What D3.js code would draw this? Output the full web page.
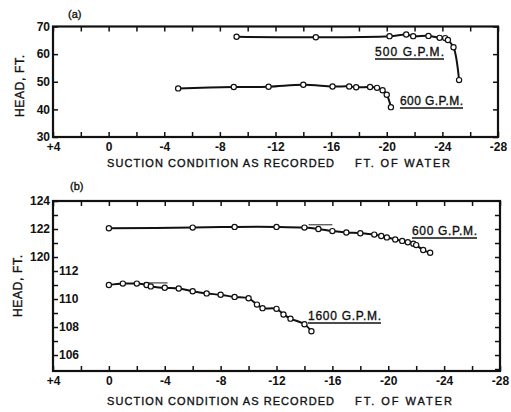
<!DOCTYPE html>
<html>
<head>
<meta charset="utf-8">
<script src="https://cdn.jsdelivr.net/npm/d3@7"></script>
<style>
  body { margin: 0; background: #fff; }
  svg { display: block; }
  text { font-family: "Liberation Sans", "DejaVu Sans", sans-serif; fill: #111; stroke: #111; stroke-width: 0.35; }
  .tick line { stroke: #111; stroke-width: 1.5; }
  .tick text { font-size: 12px; font-weight: bold; stroke: none; }
</style>
</head>
<body>
<svg width="511" height="412"></svg>
<script>
// x ticks (same for both panels)
var xTicks = [4, 2, 0, -2, -4, -6, -8, -10, -12, -14, -16, -18, -20, -22, -24, -26, -28];

// panel (a)
var aYTicks = [70, 60, 50, 40, 30];
var a500X = [-9.2, -14.9, -20.2, -21.4, -21.9, -23.0, -23.8, -24.2, -24.4, -24.8, -25.2];
var a500Y = [66.3, 66.1, 66.5, 67.1, 66.5, 66.6, 65.9, 65.8, 65.1, 62.5, 50.6];
var a600X = [-5.0, -9.0, -11.5, -14.0, -16.1, -17.3, -17.8, -18.8, -19.3, -19.7, -20.0, -20.3];
var a600Y = [47.6, 48.1, 48.2, 48.9, 48.3, 48.3, 48.0, 48.1, 47.8, 46.9, 45.3, 40.8];

// panel (b) - upper scale for 600 GPM, lower scale (offset 7 ft) for 1600 GPM
var bUpperTicks = [124, 123, 122, 121, 120];
var bLowerTicks = [112, 111, 110, 109, 108, 107, 106];
var b600X = [0, -6, -9, -12, -14, -15, -16, -17, -18, -19, -19.5, -19.9, -20.5, -21, -21.4, -21.8, -22, -22.5, -23];
var b600Y = [122.05, 122.1, 122.15, 122.15, 122.1, 122.0, 121.85, 121.75, 121.7, 121.6, 121.5, 121.4, 121.25, 121.15, 121.05, 120.95, 120.85, 120.5, 120.3];
var b1600X = [0, -1, -2, -2.7, -3, -4, -5, -6, -7, -8, -9, -10, -10.6, -11, -12, -12.5, -13, -14, -14.5];
var b1600Y = [111.0, 111.1, 111.1, 111.0, 110.9, 110.8, 110.75, 110.55, 110.4, 110.3, 110.15, 110.05, 109.6, 109.35, 109.3, 108.9, 108.6, 108.2, 107.7];
// faint pencil strokes
var bSketchUpper = [[-14.3, 122.3], [-16.0, 122.3]];
var bSketchLower = [[-2.5, 111.15], [-4.2, 111.15]];

var svg = d3.select("svg");

function zip(xs, ys) {
    return xs.map(function(x, i) { return [x, ys[i]]; });
}

function fmtX(d) {
    if (d % 4 !== 0) return "";
    if (d > 0) return "+" + d;
    return String(d);
}

function frame(x, y) {
    var x0 = x.range()[0], x1 = x.range()[1];
    var y0 = y.range()[1], y1 = y.range()[0];
    svg.append("rect")
        .attr("x", x0).attr("y", y0)
        .attr("width", x1 - x0).attr("height", y1 - y0)
        .attr("fill", "none").attr("stroke", "#111").attr("stroke-width", 2.2);

    var bottom = svg.append("g")
        .attr("transform", "translate(0," + y1 + ")")
        .call(d3.axisBottom(x).tickValues(xTicks).tickFormat(fmtX).tickSizeInner(-5).tickSizeOuter(0).tickPadding(5));
    bottom.select(".domain").remove();

    var top = svg.append("g")
        .attr("transform", "translate(0," + y0 + ")")
        .call(d3.axisTop(x).tickValues(xTicks).tickFormat("").tickSizeInner(-5).tickSizeOuter(0));
    top.select(".domain").remove();
}

function series(x, y, pts) {
    var line = d3.line()
        .x(function(d) { return x(d[0]); })
        .y(function(d) { return y(d[1]); })
        .curve(d3.curveCatmullRom.alpha(0.5));

    svg.append("path")
        .attr("d", line(pts))
        .attr("fill", "none")
        .attr("stroke", "#111")
        .attr("stroke-width", 2);

    svg.append("g").selectAll("circle")
        .data(pts)
        .enter().append("circle")
        .attr("cx", function(d) { return x(d[0]); })
        .attr("cy", function(d) { return y(d[1]); })
        .attr("r", 2.6)
        .attr("fill", "#fff")
        .attr("stroke", "#111")
        .attr("stroke-width", 1.2);
}

function sketch(x, y, pts) {
    svg.append("path")
        .attr("d", d3.line().x(function(d) { return x(d[0]); }).y(function(d) { return y(d[1]); })(pts))
        .attr("stroke", "#222").attr("stroke-width", 1);
}

function tag(label, x0, x1, y) {
    svg.append("text")
        .attr("x", x0).attr("y", y)
        .attr("font-size", 12)
        .attr("textLength", x1 - x0)
        .attr("lengthAdjust", "spacing")
        .text(label);
    svg.append("line")
        .attr("x1", x0).attr("x2", x1)
        .attr("y1", y + 3).attr("y2", y + 3)
        .attr("stroke", "#111").attr("stroke-width", 1.5);
}

function xTitle(y, right) {
    svg.append("text")
        .attr("x", 107).attr("y", y)
        .attr("font-size", 11)
        .attr("textLength", 227).attr("lengthAdjust", "spacing")
        .text("SUCTION CONDITION AS RECORDED");
    svg.append("text")
        .attr("x", 355).attr("y", y)
        .attr("font-size", 11)
        .attr("textLength", right - 355).attr("lengthAdjust", "spacing")
        .text("FT. OF WATER");
}

function yTitle(cx, cy) {
    svg.append("text")
        .attr("transform", "translate(" + cx + "," + cy + ") rotate(-90)")
        .attr("text-anchor", "middle")
        .attr("font-size", 12)
        .attr("textLength", 62).attr("lengthAdjust", "spacing")
        .text("HEAD, FT.");
}

// ---------- panel (a)
var xA = d3.scaleLinear().domain([4, -28]).range([53, 498]);
var yA = d3.scaleLinear().domain([30, 70]).range([137, 26.5]);

frame(xA, yA);

var aLeft = svg.append("g")
    .attr("transform", "translate(53,0)")
    .call(d3.axisLeft(yA).tickValues(aYTicks).tickSizeInner(-5).tickSizeOuter(0).tickPadding(3));
aLeft.select(".domain").remove();
aLeft.selectAll(".tick text").attr("font-size", 13);

var aRight = svg.append("g")
    .attr("transform", "translate(498,0)")
    .call(d3.axisRight(yA).tickValues(aYTicks).tickFormat("").tickSizeInner(-5).tickSizeOuter(0));
aRight.select(".domain").remove();

series(xA, yA, zip(a500X, a500Y));
series(xA, yA, zip(a600X, a600Y));

tag("500 G.P.M.", 375, 444, 56);
tag("600 G.P.M.", 400, 463, 105);

svg.append("text").attr("x", 68).attr("y", 18).attr("font-size", 11).text("(a)");
yTitle(24, 86);
xTitle(167, 450);

// ---------- panel (b)
var xB = d3.scaleLinear().domain([4, -28]).range([53, 500]);
var yB = d3.scaleLinear().domain([111.86, 124]).range([371, 201]);
var yB2 = d3.scaleLinear().domain([111.86 - 7, 124 - 7]).range([371, 201]);

frame(xB, yB);

var bLeft = svg.append("g")
    .attr("transform", "translate(53,0)")
    .call(d3.axisLeft(yB).tickValues(bUpperTicks)
        .tickFormat(function(d) { return d % 2 === 0 ? d : ""; })
        .tickSizeInner(-5).tickSizeOuter(0).tickPadding(3));
bLeft.select(".domain").remove();

var bLeft2 = svg.append("g")
    .attr("transform", "translate(53,0)")
    .call(d3.axisRight(yB2).tickValues(bLowerTicks)
        .tickFormat(function(d) { return d % 2 === 0 ? d : ""; })
        .tickSizeInner(5).tickSizeOuter(0).tickPadding(1));
bLeft2.select(".domain").remove();

var bRight = svg.append("g")
    .attr("transform", "translate(500,0)")
    .call(d3.axisRight(yB).tickValues(d3.range(112, 124, 1)).tickFormat("").tickSizeInner(-5).tickSizeOuter(0));
bRight.select(".domain").remove();

sketch(xB, yB, bSketchUpper);
sketch(xB, yB2, bSketchLower);
series(xB, yB, zip(b600X, b600Y));
series(xB, yB2, zip(b1600X, b1600Y));

tag("600 G.P.M.", 412, 477, 235);
tag("1600 G.P.M.", 308, 381, 320);

svg.append("text").attr("x", 70).attr("y", 190).attr("font-size", 11).text("(b)");
yTitle(22, 286);
xTitle(405, 452);
</script>
</body>
</html>
